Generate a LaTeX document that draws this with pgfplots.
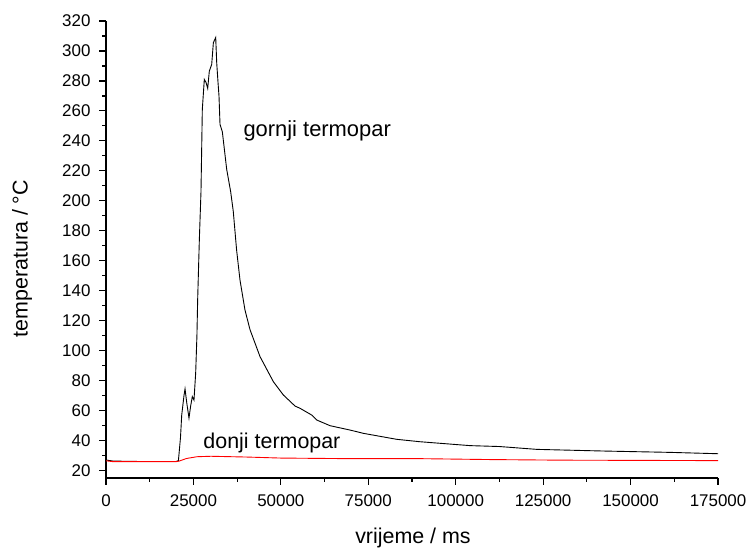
\documentclass[border=0pt]{standalone}
\usepackage{fontspec}
\setmainfont{Liberation Sans}
\usepackage{pgfplots}
\pgfplotsset{compat=1.18}
\begin{document}
\begin{tikzpicture}[x=1bp,y=1bp]
\useasboundingbox (0,0) rectangle (753,548);
\begin{axis}[
  at={(106bp,70bp)}, anchor=south west,
  scale only axis, width=612bp, height=457bp,
  xmin=0, xmax=175000, ymin=15, ymax=320,
  axis x line*=bottom, axis y line*=left,
  axis line style={line width=1.3bp, black},
  xtick={0,25000,50000,75000,100000,125000,150000,175000}, minor x tick num=1,
  ytick={20,40,...,320}, minor y tick num=1,
  tick align=outside,
  major tick length=7bp, minor tick length=4bp,
  tick style={line width=1.2bp, black},
  scaled x ticks=false, scaled y ticks=false,
  /pgf/number format/fixed,
  /pgf/number format/assume math mode=true,
  /pgf/number format/1000 sep={},
  tick label style={font=\fontsize{17}{18}\selectfont},
  xticklabel style={yshift=-6bp},
  yticklabel style={xshift=-5bp},
  label style={font=\fontsize{21.5}{24}\selectfont},
  xlabel={vrijeme / ms},
  ylabel={temperatura / °C},
  xlabel style={at={(axis description cs:0.5016,-0.143)}, anchor=base},
  ylabel style={at={(axis description cs:-0.137,0.48)}, anchor=center},
  clip=false,
]
\addplot[black, line width=0.9bp] coordinates {
(0,27) (2000,26.3) (10000,26) (20000,26) (20700,26.5) (21300,42) (21650,57)
(22000,64) (22300,70) (22600,74.5) (23100,65) (23730,55) (24200,63)
(24680,69.3) (25160,67) (25640,85) (26000,110) (26210,134) (26690,174)
(27160,206) (27540,261) (28110,281) (28600,279) (29080,275) (29540,286.5)
(30220,291) (30700,305.5) (31370,309) (31660,292) (32000,280) (32310,270)
(32600,251) (33270,246) (34510,221) (35650,206) (36390,193) (37350,167)
(38320,147) (39750,127) (41180,114) (44040,96) (47850,79.3) (50710,70.4)
(54060,63) (55490,61.5) (58830,57) (60250,53.7) (64070,49.9) (69770,47)
(73600,44.8) (83150,40.8) (89800,39.2) (104100,36.6) (112500,36)
(123200,34.1) (142200,33.0) (161300,32.1) (175000,31.2)
};
\addplot[red, line width=0.9bp] coordinates {
(0,26.5) (2000,25.9) (20000,25.9) (20800,26.2) (23000,28) (26000,29.2)
(30000,29.5) (40000,29) (50000,28.3) (70000,27.9) (90000,27.9)
(110000,27.3) (130000,26.9) (175000,26.6)
};
\node[anchor=base west, inner sep=0, font=\fontsize{22}{26}\selectfont] at (axis cs:39260,242.8) {gornji termopar};
\node[anchor=base west, inner sep=0, font=\fontsize{21.5}{26}\selectfont] at (axis cs:27820,34.8) {donji termopar};
\end{axis}
\end{tikzpicture}
\end{document}
